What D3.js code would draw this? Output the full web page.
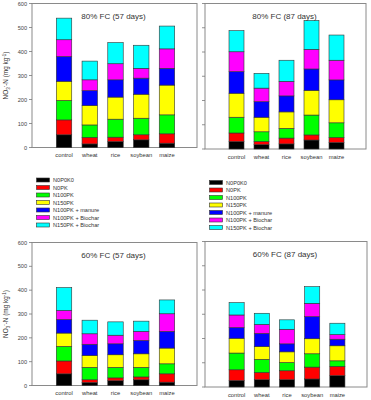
<!DOCTYPE html>
<html lang="en">
<head>
    <meta charset="UTF-8">
    <title>Soil nitrate stacked bars</title>
    <style>
        body {
            margin: 0;
            background: #fff;
            font-family: Arial, "Liberation Sans", sans-serif;
        }

        .frame {
            fill: none;
            stroke: #8a8a8a;
            stroke-width: 1;
        }

        .tick-line {
            stroke: #777;
            stroke-width: 0.8;
        }

        .tick-text {
            font-size: 5.6px;
            fill: #444;
        }

        .cat-text {
            font-size: 5.8px;
            fill: #333;
            text-anchor: middle;
        }

        .title {
            font-size: 8px;
            fill: #333;
            text-anchor: middle;
        }

        .bar {
            stroke: #333;
            stroke-width: 0.6;
        }

        .legend-text {
            font-size: 5.6px;
            fill: #333;
        }
    </style>
</head>
<body>
    <svg id="chart" width="371" height="400"></svg>

    <script src="https://d3js.org/d3.v7.min.js"></script>
    <script>
        // categories and treatments
        const categories = ["control", "wheat", "rice", "soybean", "maize"];
        const treatments = ["N0P0K0", "N0PK", "N100PK", "N150PK", "N100PK + manure", "N100PK + Biochar", "N150PK + Biochar"];
        const colors = ["#000000", "#ff0000", "#00ff00", "#ffff00", "#0000ff", "#ff00ff", "#00ffff"];
        const yTicks = [0, 100, 200, 300, 400, 500, 600];

        // one row per category, one value per treatment (segment height, mg/kg)
        const fc80d57 = [
            [53, 62, 81, 80, 103, 70, 90],
            [15, 27, 52, 81, 62, 45, 78],
            [25, 18, 75, 92, 72, 67, 88],
            [32, 21, 69, 100, 67, 41, 96],
            [18, 39, 79, 124, 70, 81, 95]
        ];
        const fc80d87 = [
            [31, 35, 65, 99, 89, 82, 87],
            [18, 13, 40, 60, 64, 56, 61],
            [21, 24, 40, 68, 66, 60, 87],
            [37, 21, 82, 102, 88, 81, 119],
            [27, 20, 61, 95, 82, 81, 104]
        ];
        const fc60d57 = [
            [49, 54, 61, 56, 57, 38, 96],
            [13, 11, 52, 50, 47, 44, 57],
            [20, 12, 44, 53, 46, 36, 56],
            [24, 12, 40, 57, 56, 38, 43],
            [14, 35, 42, 66, 70, 74, 58]
        ];
        const fc60d87 = [
            [27, 44, 69, 61, 44, 52, 51],
            [30, 30, 54, 53, 54, 37, 46],
            [30, 37, 34, 44, 33, 60, 39],
            [33, 49, 55, 62, 91, 55, 69],
            [47, 38, 23, 62, 27, 19, 47]
        ];

        const svg = d3.select("#chart");

        const panels = [
            { title: "80% FC (57 days)", data: fc80d57, x0: 32, x1: 197, y0: 3.5, y1: 147.5, labels: true },
            { title: "80% FC (87 days)", data: fc80d87, x0: 205, x1: 366, y0: 3.5, y1: 149, labels: false },
            { title: "60% FC (57 days)", data: fc60d57, x0: 32, x1: 197, y0: 242.5, y1: 385.5, labels: true },
            { title: "60% FC (87 days)", data: fc60d87, x0: 205, x1: 367, y0: 241.5, y1: 387, labels: false }
        ];

        function drawPanel(p) {
            const g = svg.append("g");

            const x = d3.scaleBand()
                .domain(categories)
                .range([p.x0 + 14, p.x1 - 12])
                .padding(0.4);

            const y = d3.scaleLinear()
                .domain([0, 600])
                .range([p.y1, p.y0]);

            // build table for d3.stack
            const table = categories.map((c, i) => {
                const row = { category: c };
                treatments.forEach((t, j) => row[t] = p.data[i][j]);
                return row;
            });
            const stacked = d3.stack().keys(treatments)(table);

            // frame
            g.append("rect")
                .attr("class", "frame")
                .attr("x", p.x0)
                .attr("y", p.y0)
                .attr("width", p.x1 - p.x0)
                .attr("height", p.y1 - p.y0);

            // y ticks
            yTicks.forEach(t => {
                g.append("line")
                    .attr("class", "tick-line")
                    .attr("x1", p.x0 - 3)
                    .attr("x2", p.x0)
                    .attr("y1", y(t))
                    .attr("y2", y(t));
                if (p.labels) {
                    g.append("text")
                        .attr("class", "tick-text")
                        .attr("x", p.x0 - 5)
                        .attr("y", y(t) + 2)
                        .attr("text-anchor", "end")
                        .text(t);
                }
            });

            // bars
            stacked.forEach((layer, j) => {
                g.selectAll(null)
                    .data(layer)
                    .enter()
                    .append("rect")
                    .attr("class", "bar")
                    .attr("fill", colors[j])
                    .attr("x", d => x(d.data.category))
                    .attr("y", d => y(d[1]))
                    .attr("width", x.bandwidth())
                    .attr("height", d => y(d[0]) - y(d[1]));
            });

            // category labels
            categories.forEach(c => {
                g.append("text")
                    .attr("class", "cat-text")
                    .attr("x", x(c) + x.bandwidth() / 2)
                    .attr("y", p.y1 + 9.5)
                    .text(c);
            });

            // title
            g.append("text")
                .attr("class", "title")
                .attr("x", (p.x0 + p.x1) / 2 - 1)
                .attr("y", p.y0 + 15.5)
                .text(p.title);

            // y axis label
            if (p.labels) {
                const label = g.append("text")
                    .attr("transform", `translate(8,${(p.y0 + p.y1) / 2}) rotate(-90)`)
                    .attr("text-anchor", "middle")
                    .attr("font-size", "6.4px")
                    .attr("fill", "#333");
                label.append("tspan").text("NO");
                label.append("tspan").attr("font-size", "4.5px").attr("dy", 1.5).text("3");
                label.append("tspan").attr("font-size", "4.5px").attr("dy", -3.5).text("-");
                label.append("tspan").attr("dy", 2).text("-N (mg kg");
                label.append("tspan").attr("font-size", "4.5px").attr("dy", -2.5).text("-1");
                label.append("tspan").attr("dy", 2.5).text(")");
            }
        }

        function drawLegend(lx, ly) {
            const g = svg.append("g");
            treatments.forEach((t, i) => {
                g.append("rect")
                    .attr("x", lx)
                    .attr("y", ly + i * 7.5 - 2)
                    .attr("width", 13)
                    .attr("height", 4)
                    .attr("fill", colors[i])
                    .attr("stroke", "#333")
                    .attr("stroke-width", 0.6);
                g.append("text")
                    .attr("class", "legend-text")
                    .attr("x", lx + 16.5)
                    .attr("y", ly + i * 7.5 + 2)
                    .text(t);
            });
        }

        panels.forEach(drawPanel);
        drawLegend(36.5, 180);
        drawLegend(209.5, 182.5);
    </script>
</body>
</html>
